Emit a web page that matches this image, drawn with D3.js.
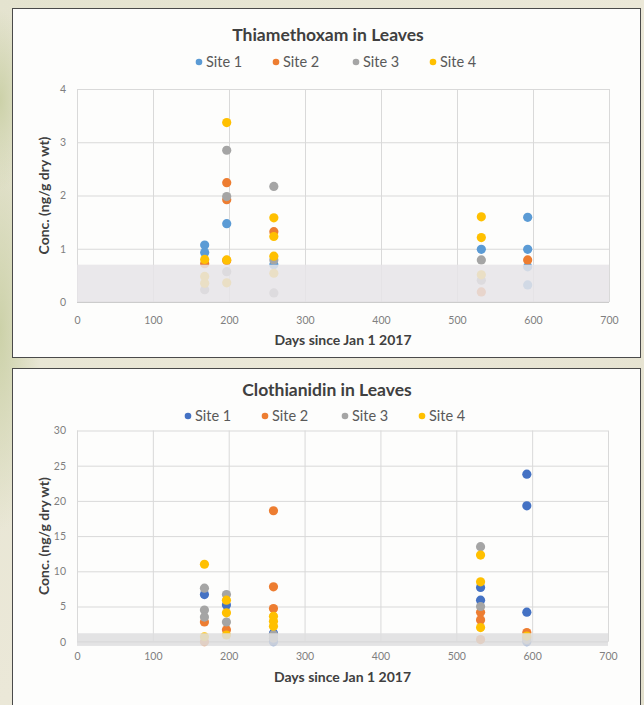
<!DOCTYPE html>
<html>
<head>
<meta charset="utf-8">
<script src="https://cdn.jsdelivr.net/npm/d3@7"></script>
<style>
  html, body { margin: 0; padding: 0; background: #e7e4d3; }
  svg { display: block; }
</style>
</head>
<body>
<svg id="chart" width="644" height="705"></svg>
<script>
// ---------------- DATA ----------------
const siteNames = ["Site 1", "Site 2", "Site 3", "Site 4"];
const xTicks = [0, 100, 200, 300, 400, 500, 600, 700];

// Thiamethoxam in Leaves: [day, conc]
const thxSite1 = [[168,1.07],[168,0.93],[197,1.47],[259,0.70],[532,0.99],[593,1.59],[593,0.99],[593,0.66],[593,0.32]];
const thxSite2 = [[168,0.72],[197,2.24],[197,1.92],[197,0.78],[259,1.32],[593,0.79],[532,0.19]];
const thxSite3 = [[168,0.23],[197,2.85],[197,1.98],[197,0.57],[259,2.17],[259,0.79],[259,0.17],[532,0.79],[532,0.41]];
const thxSite4 = [[168,0.80],[168,0.48],[168,0.35],[197,3.37],[197,0.79],[197,0.36],[259,1.58],[259,1.23],[259,0.86],[259,0.54],[532,1.60],[532,1.21],[532,0.51]];
const thxYTicks = [0, 1, 2, 3, 4];
const thxBand = [0, 0.7];

// Clothianidin in Leaves: [day, conc]
const cloSite1 = [[168,6.7],[197,5.2],[259,1.2],[259,0],[532,7.7],[532,5.9],[593,23.8],[593,19.3],[593,4.2],[593,0]];
const cloSite2 = [[168,2.8],[168,0],[197,1.7],[259,18.6],[259,7.8],[259,4.7],[532,4.2],[532,3.1],[532,0.3],[593,1.3],[593,0.6]];
const cloSite3 = [[168,7.6],[168,4.5],[168,3.5],[197,6.7],[197,2.8],[259,1.0],[259,0.5],[532,13.5],[532,5.0],[593,0.3]];
const cloSite4 = [[168,11.0],[168,0.7],[197,5.9],[197,4.1],[197,0.95],[259,3.6],[259,2.9],[259,2.2],[532,12.3],[532,8.5],[532,2.0],[593,0.8]];
const cloYTicks = [0, 5, 10, 15, 20, 25, 30];
const cloBand = [-0.6, 1.2];

// ---------------- DRAW ----------------
const svg = d3.select("#chart");
const defs = svg.append("defs");

// textured-looking background
const bg = defs.append("linearGradient").attr("id","bgGrad").attr("x1","0").attr("y1","0").attr("x2","1").attr("y2","1");
bg.append("stop").attr("offset","0").attr("stop-color","#e4e3cf");
bg.append("stop").attr("offset","0.5").attr("stop-color","#ebe8d8");
bg.append("stop").attr("offset","1").attr("stop-color","#e2dfcc");
svg.append("rect").attr("width",644).attr("height",705).attr("fill","url(#bgGrad)");
const rg = defs.append("radialGradient").attr("id","greenSpot");
rg.append("stop").attr("offset","0").attr("stop-color","#c9cfa4").attr("stop-opacity",0.9);
rg.append("stop").attr("offset","1").attr("stop-color","#c9cfa4").attr("stop-opacity",0);
svg.append("ellipse").attr("cx",0).attr("cy",330).attr("rx",40).attr("ry",200).attr("fill","url(#greenSpot)");
svg.append("ellipse").attr("cx",0).attr("cy",100).attr("rx",30).attr("ry",90).attr("fill","url(#greenSpot)");

const fontFam = "Lato, 'Open Sans', sans-serif";

function drawChart(cfg) {
  const g = svg.append("g");
  // panel
  g.append("rect")
    .attr("x", cfg.panel[0] + 0.5).attr("y", cfg.panel[1] + 0.5)
    .attr("width", cfg.panel[2]).attr("height", cfg.panel[3])
    .attr("fill", "#fdfdfc").attr("stroke", "#4a4a4a").attr("stroke-width", 1);

  const x = d3.scaleLinear().domain([0, 700]).range([cfg.plot.left, cfg.plot.right]);
  const y = d3.scaleLinear().domain([0, cfg.yMax]).range([cfg.plot.bottom, cfg.plot.top]);

  // gridlines
  g.append("g").attr("transform", `translate(0,${cfg.plot.bottom})`)
    .call(d3.axisBottom(x).tickValues(cfg.xTicks).tickSize(-(cfg.plot.bottom - cfg.plot.top)).tickFormat(""))
    .call(a => a.select(".domain").remove())
    .call(a => a.selectAll("line").attr("stroke", "#d9d9d9"));
  g.append("g").attr("transform", `translate(${cfg.plot.left},0)`)
    .call(d3.axisLeft(y).tickValues(cfg.yTicks).tickSize(-(cfg.plot.right - cfg.plot.left)).tickFormat(""))
    .call(a => a.select(".domain").remove())
    .call(a => a.selectAll("line").attr("stroke", "#d9d9d9"));

  // x axis line
  g.append("line").attr("x1", cfg.plot.left).attr("x2", cfg.plot.right)
    .attr("y1", y(0)).attr("y2", y(0)).attr("stroke", "#bfbfbf");

  // points
  cfg.series.forEach((s, i) => {
    g.append("g").selectAll("circle").data(s).join("circle")
      .attr("cx", d => x(d[0])).attr("cy", d => y(d[1]))
      .attr("r", cfg.r).attr("fill", cfg.colors[i]);
  });

  // detection-limit band overlaid
  g.append("rect")
    .attr("x", x(0)).attr("width", x(700) - x(0))
    .attr("y", y(cfg.band[1])).attr("height", y(cfg.band[0]) - y(cfg.band[1]))
    .attr("fill", cfg.bandColor).attr("opacity", 0.85);

  // tick labels
  const xl = g.append("g").attr("transform", `translate(0,${cfg.plot.bottom})`)
    .call(d3.axisBottom(x).tickValues(cfg.xTicks).tickSize(0).tickPadding(cfg.xPad).tickFormat(d3.format("d")));
  xl.select(".domain").remove();
  xl.selectAll("text").attr("fill", "#7f7f7f").style("font-family", fontFam).style("font-size", "10.5px");
  const yl = g.append("g").attr("transform", `translate(${cfg.plot.left},0)`)
    .call(d3.axisLeft(y).tickValues(cfg.yTicks).tickSize(0).tickPadding(cfg.yPad).tickFormat(d3.format("d")));
  yl.select(".domain").remove();
  yl.selectAll("text").attr("fill", "#7f7f7f").style("font-family", fontFam).style("font-size", "10.5px");

  // title
  g.append("text").attr("x", cfg.titleX).attr("y", cfg.titleY).attr("text-anchor", "middle")
    .attr("fill", "#404040").style("font-family", fontFam).style("font-weight", "bold").style("font-size", "17.5px")
    .text(cfg.title);

  // legend
  siteNames.forEach((n, i) => {
    const lx = cfg.legendX[i];
    g.append("circle").attr("cx", lx).attr("cy", cfg.legendY).attr("r", 3.3).attr("fill", cfg.colors[i]);
    g.append("text").attr("x", lx + 7).attr("y", cfg.legendY).attr("dy", "0.35em")
      .attr("fill", "#595959").style("font-family", fontFam).style("font-size", "14.5px").text(n);
  });

  // axis titles
  g.append("text").attr("x", (cfg.plot.left + cfg.plot.right) / 2).attr("y", cfg.xTitleY)
    .attr("text-anchor", "middle").attr("fill", "#404040")
    .style("font-family", fontFam).style("font-weight", "bold").style("font-size", "14px")
    .text("Days since Jan 1 2017");
  g.append("text").attr("transform", `translate(${cfg.yTitleX},${(cfg.plot.top + cfg.plot.bottom) / 2}) rotate(-90)`)
    .attr("text-anchor", "middle").attr("fill", "#404040")
    .style("font-family", fontFam).style("font-weight", "bold").style("font-size", "14px")
    .text("Conc. (ng/g dry wt)");
}

drawChart({
  panel: [12, 8, 628, 349],
  plot: { left: 77, right: 609, top: 89, bottom: 302 },
  yMax: 4, xTicks: xTicks, yTicks: thxYTicks,
  series: [thxSite1, thxSite2, thxSite3, thxSite4],
  colors: ["#5b9bd5", "#ed7d31", "#a5a5a5", "#ffc000"],
  r: 4.6, band: thxBand, bandColor: "#e6e4e7",
  title: "Thiamethoxam in Leaves", titleX: 328, titleY: 41,
  legendX: [199, 276, 356, 433], legendY: 62,
  xPad: 15, yPad: 11, xTitleY: 345, yTitleX: 49
});

drawChart({
  panel: [12, 368, 628, 360],
  plot: { left: 77, right: 608, top: 430.5, bottom: 641.7 },
  yMax: 30, xTicks: xTicks, yTicks: cloYTicks,
  series: [cloSite1, cloSite2, cloSite3, cloSite4],
  colors: ["#4472c4", "#ed7d31", "#a5a5a5", "#ffc000"],
  r: 4.6, band: cloBand, bandColor: "#dededf",
  title: "Clothianidin in Leaves", titleX: 327, titleY: 396,
  legendX: [188, 265, 345, 422], legendY: 416,
  xPad: 11, yPad: 11, xTitleY: 682, yTitleX: 49
});
</script>
</body>
</html>
